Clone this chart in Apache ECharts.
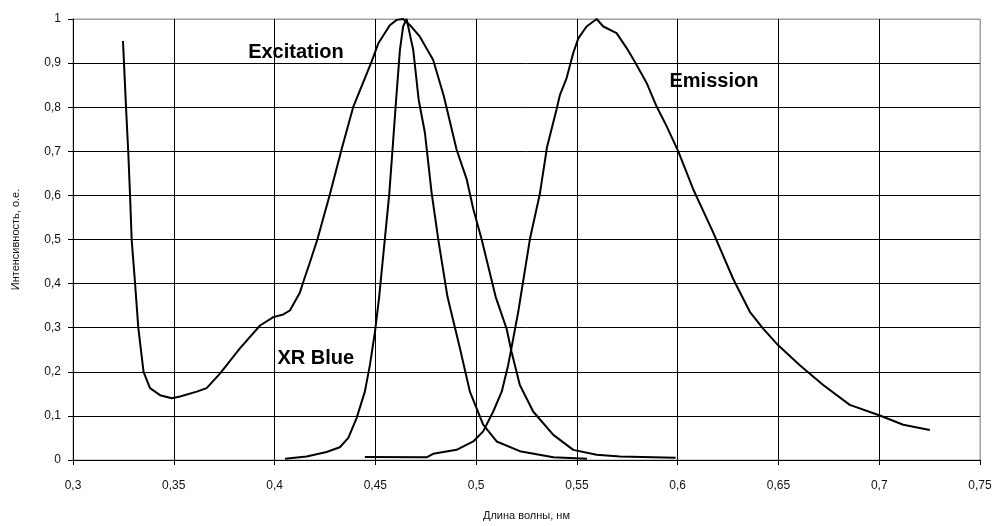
<!DOCTYPE html>
<html>
<head>
<meta charset="utf-8">
<script src="https://cdn.jsdelivr.net/npm/echarts@6/dist/echarts.min.js"></script>
<style>html,body{margin:0;padding:0;background:#fff}#c{width:996px;height:526px}</style>
</head>
<body>
<div id="c"></div>
<script>
var excitationX = [0.3248,0.3253,0.3263,0.3274,0.3283,0.3291,0.3308,0.3324,0.3350,0.3382,0.3432,0.3490,0.3531,0.3614,0.3663,0.3729,0.3828,0.3928,0.3994,0.4043,0.4076,0.4126,0.4142,0.4176,0.4213,0.4275,0.4333,0.4390,0.4482,0.4515,0.4572,0.4606,0.4638,0.4672,0.4721,0.4787,0.4840,0.4903,0.4953,0.4986,0.5027,0.5097,0.5151,0.5176,0.5217,0.5283,0.5383,0.5482,0.5598,0.5713,0.5990];
var excitationY = [0.95,0.90,0.80,0.70,0.60,0.50,0.40,0.30,0.20,0.163,0.147,0.140,0.144,0.155,0.163,0.196,0.253,0.305,0.324,0.330,0.339,0.380,0.403,0.449,0.501,0.603,0.705,0.800,0.904,0.945,0.986,0.998,1.0,0.986,0.960,0.907,0.825,0.704,0.637,0.569,0.501,0.370,0.298,0.245,0.170,0.110,0.057,0.023,0.012,0.008,0.005];

var xrBlueX = [0.4052,0.4159,0.4258,0.4324,0.4366,0.4407,0.4448,0.4473,0.4498,0.4519,0.4548,0.4569,0.4585,0.4602,0.4622,0.4638,0.4655,0.4688,0.4715,0.4746,0.4779,0.4812,0.4858,0.4920,0.4969,0.5035,0.5102,0.5217,0.5383,0.5550];
var xrBlueY = [0.003,0.008,0.018,0.029,0.050,0.095,0.155,0.215,0.290,0.370,0.505,0.603,0.702,0.810,0.930,0.983,1.0,0.930,0.817,0.742,0.607,0.501,0.370,0.253,0.155,0.080,0.042,0.020,0.006,0.003];

var emissionX = [0.4448,0.4754,0.4787,0.4903,0.4986,0.5035,0.5085,0.5127,0.5159,0.5184,0.5209,0.5222,0.5267,0.5316,0.5352,0.5399,0.5416,0.5449,0.5482,0.5507,0.5548,0.5598,0.5631,0.5697,0.5747,0.5796,0.5846,0.5895,0.5945,0.6003,0.6077,0.6176,0.6275,0.6358,0.6424,0.6499,0.6606,0.6722,0.6854,0.7003,0.7119,0.7251];
var emissionY = [0.007,0.006,0.014,0.023,0.042,0.065,0.110,0.155,0.215,0.275,0.336,0.373,0.501,0.603,0.710,0.795,0.828,0.866,0.923,0.956,0.983,1.0,0.983,0.968,0.934,0.896,0.855,0.802,0.757,0.700,0.614,0.516,0.411,0.336,0.298,0.260,0.215,0.170,0.125,0.101,0.080,0.068];

var labelTexts = ['Excitation', 'Emission', 'XR Blue'];
var labelX = [0.4106, 0.6180, 0.4205];
var labelY = [0.925, 0.858, 0.230];

var xTitle = 'Длина волны, нм';
var yTitle = 'Интенсивность, о.е.';

function zip(a, b) { return a.map(function (v, i) { return [v, b[i]]; }); }
function fmt(v) { return String(+v.toFixed(2)).replace('.', ','); }

var xSplitColors = []; for (var i = 0; i < 10; i++) xSplitColors.push(i === 9 ? '#a0a0a0' : '#000');
var ySplitColors = []; for (var j = 0; j < 11; j++) ySplitColors.push(j === 10 ? '#a0a0a0' : '#000');

var lineStyle = { color: '#000', width: 2 };
function lineSeries(name, xs, ys) {
  return { name: name, type: 'line', data: zip(xs, ys), showSymbol: false, symbol: 'none',
    lineStyle: lineStyle, silent: true, animation: false, z: 5 };
}

var chart = echarts.init(document.getElementById('c'), null, { renderer: 'canvas' });
chart.setOption({
  animation: false,
  backgroundColor: '#fff',
  grid: { left: 73, right: 16, top: 19, bottom: 64, show: true, borderColor: '#a0a0a0', borderWidth: 1, backgroundColor: 'transparent' },
  xAxis: {
    type: 'value', min: 0.3, max: 0.75, interval: 0.05,
    name: xTitle, nameLocation: 'middle', nameGap: 50,
    nameTextStyle: { fontFamily: 'Liberation Sans', fontSize: 11, color: '#111' },
    axisLine: { show: true, lineStyle: { color: '#000', width: 1 } },
    axisTick: { show: true, inside: false, length: 5, lineStyle: { color: '#000' } },
    axisLabel: { formatter: fmt, margin: 20, fontFamily: 'Liberation Sans', fontSize: 12, color: '#111' },
    splitLine: { show: true, lineStyle: { color: xSplitColors, width: 1 } }
  },
  yAxis: {
    type: 'value', min: 0, max: 1, interval: 0.1,
    name: yTitle, nameLocation: 'middle', nameGap: 52,
    nameTextStyle: { fontFamily: 'Liberation Sans', fontSize: 11, color: '#111' },
    axisLine: { show: true, lineStyle: { color: '#000', width: 1 } },
    axisTick: { show: true, inside: false, length: 5, lineStyle: { color: '#000' } },
    axisLabel: { formatter: fmt, margin: 12, fontFamily: 'Liberation Sans', fontSize: 12, color: '#111' },
    splitLine: { show: true, lineStyle: { color: ySplitColors, width: 1 } }
  },
  series: [
    lineSeries('Excitation', excitationX, excitationY),
    lineSeries('XR Blue', xrBlueX, xrBlueY),
    lineSeries('Emission', emissionX, emissionY),
    {
      type: 'scatter', symbolSize: 1, silent: true, z: 6,
      itemStyle: { opacity: 1, color: 'rgba(0,0,0,0)' },
      data: labelTexts.map(function (t, i) { return { value: [labelX[i], labelY[i]], name: t }; }),
      label: { show: true, position: 'inside', formatter: '{b}', fontFamily: 'Liberation Sans', fontWeight: 'bold', fontSize: 20, color: '#000', opacity: 1, textBorderWidth: 0, textBorderColor: 'transparent' }
    }
  ]
});
</script>
</body>
</html>
